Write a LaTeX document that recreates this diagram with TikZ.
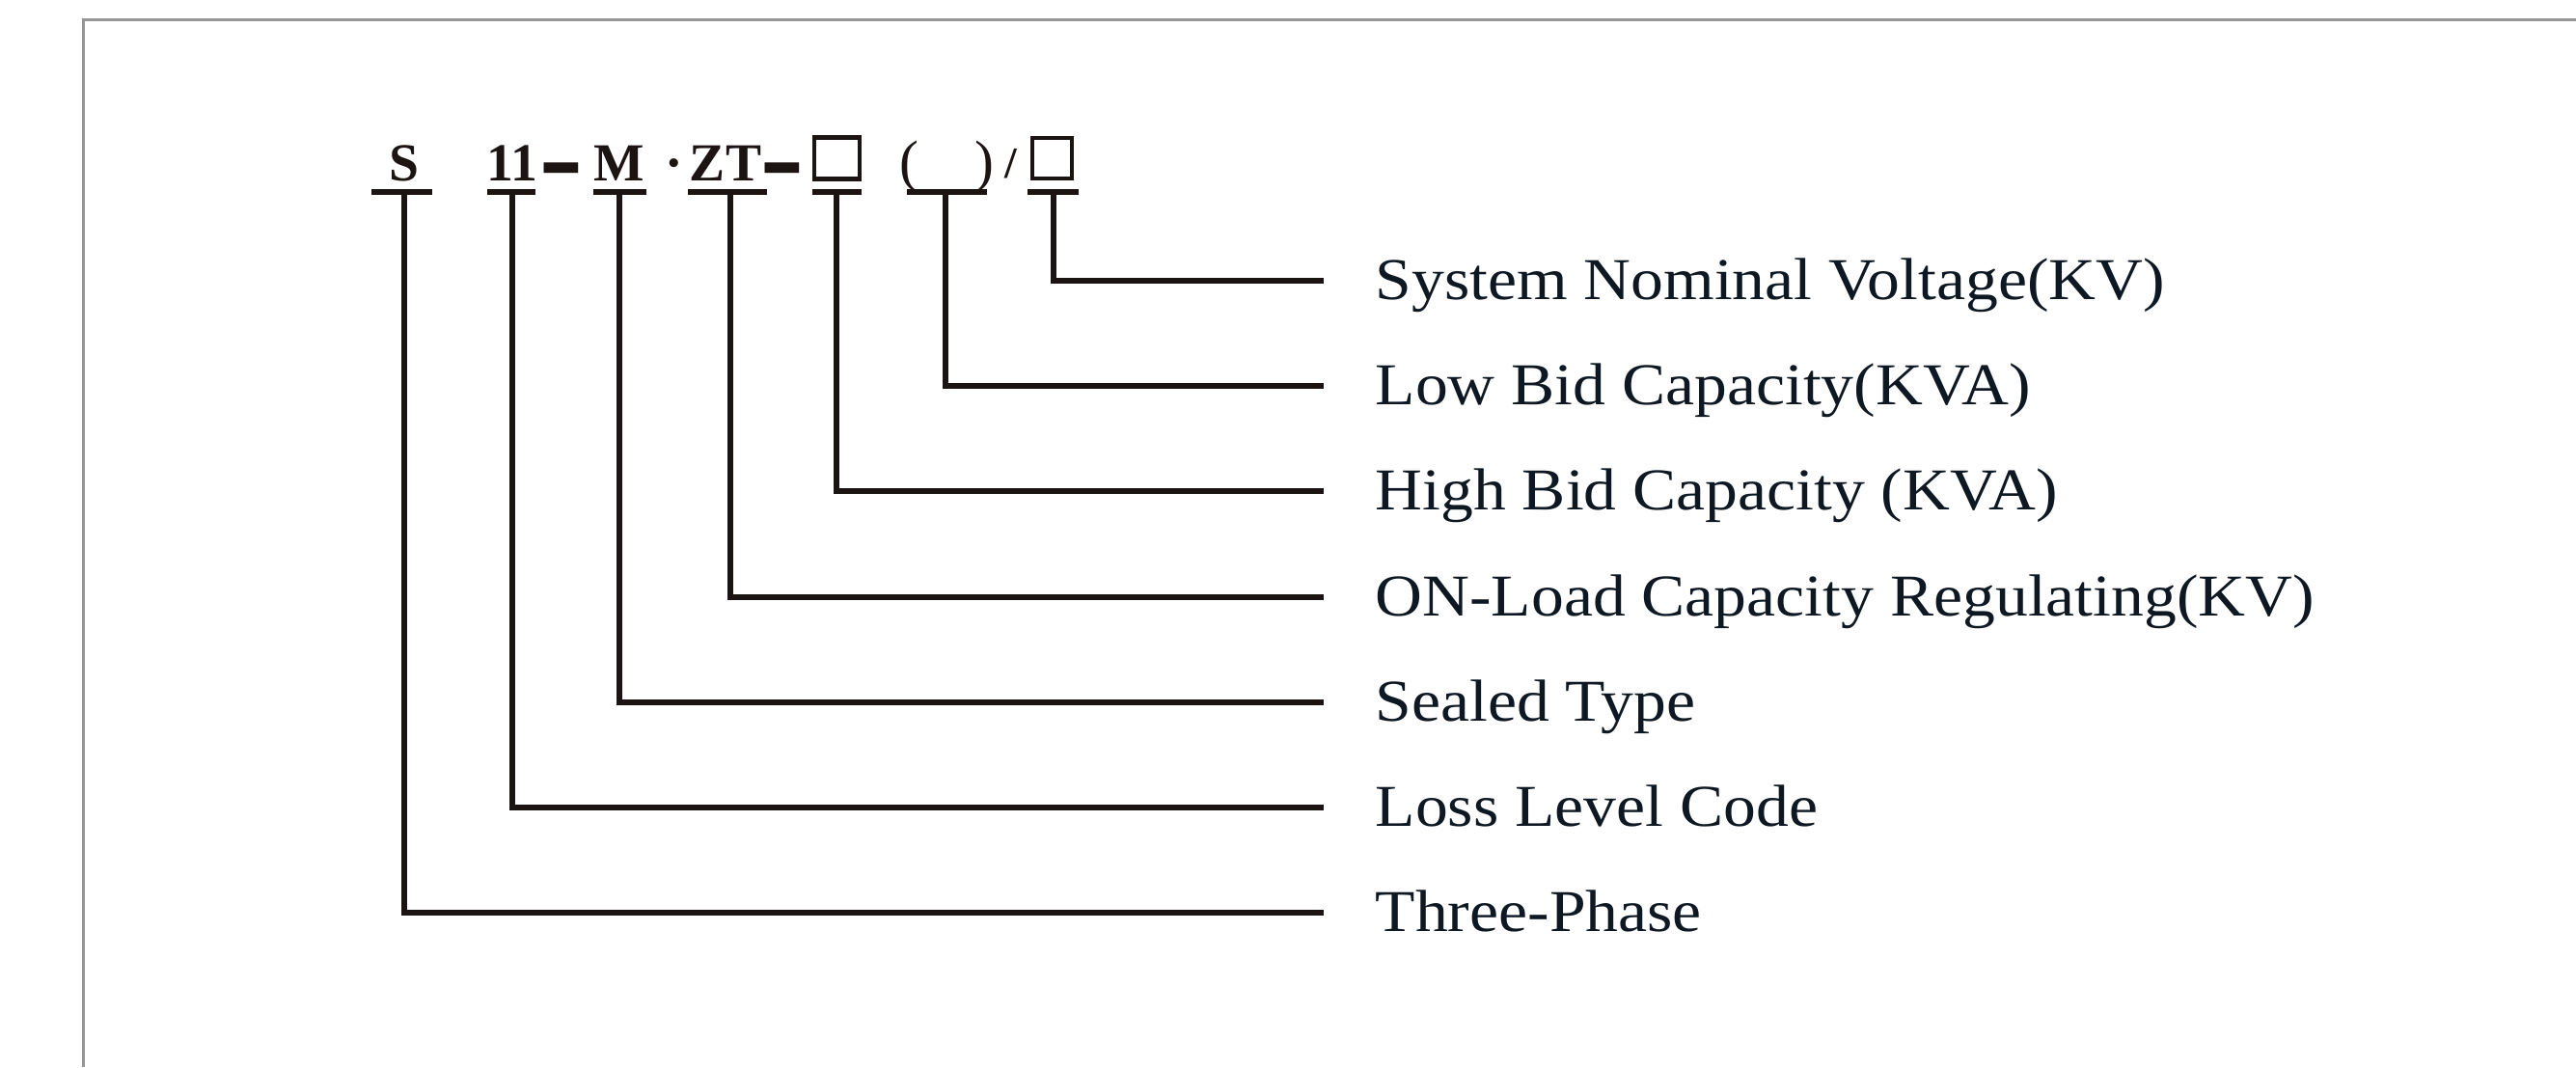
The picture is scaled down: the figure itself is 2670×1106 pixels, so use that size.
\documentclass[tikz,border=0pt]{standalone}
\usepackage{fontspec}
\setmainfont{Liberation Serif}
\newfontfamily\lblfont[FakeStretch=1.1]{Liberation Serif}
\definecolor{ink}{RGB}{14,24,34}
\definecolor{wire}{RGB}{28,20,18}
\definecolor{frame}{RGB}{150,150,150}
\begin{document}
\begin{tikzpicture}[x=0.1mm,y=-0.1mm,
  wirestyle/.style={draw=wire,line width=0.52mm},
  ulinestyle/.style={draw=wire,line width=0.6mm},
  codetext/.style={inner sep=0pt,anchor=base,text=wire,font=\fontsize{15.8}{18}\selectfont\bfseries},
  parentext/.style={inner sep=0pt,anchor=base,text=wire,font=\fontsize{17}{20}\selectfont},
  boxstyle/.style={draw=wire,line width=0.42mm,inner sep=0pt},
  lbl/.style={inner sep=0pt,anchor=base west,text=ink,font=\lblfont\fontsize{17.5}{21}\selectfont}]
\useasboundingbox (0,0) rectangle (2670,1106);
\fill[white] (0,0) rectangle (2670,1106);
\draw[draw=frame,line width=0.3mm] (86,1106) -- (86,20) -- (2670,20);

% code line
\node[codetext] (cS) at (419,187) {S};
\node[codetext] (c11) at (531,187) {11};
\node[codetext] (d1) at (582,210) {\scalebox{1.25}[2.8]{–}};
\node[codetext] (cM) at (642,187) {M};
\node[codetext] (dot) at (699,187) {·};
\node[codetext] (cZT) at (752,187) {ZT};
\node[codetext] (d2) at (811,210) {\scalebox{1.25}[2.8]{–}};
\node[boxstyle,minimum width=4.7mm,minimum height=4.3mm] (cB1) at (867.5,164) {};
\node[parentext] (pl) at (942,187) {(};
\node[parentext] (pr) at (1020,187) {)};
\node[codetext,font=\fontsize{13}{15}\selectfont\bfseries] (sl) at (1048,184) {/};
\node[boxstyle,minimum width=4.1mm,minimum height=4.2mm] (cB2) at (1090.5,164) {};

% underlines
\draw[ulinestyle] (385,199) -- (448,199);
\draw[ulinestyle] (505,199) -- (555,199);
\draw[ulinestyle] (615,199) -- (670,199);
\draw[ulinestyle] (713,199) -- (795,199);
\draw[ulinestyle] (842,199) -- (893,199);
\draw[ulinestyle] (940,199) -- (1023,199);
\draw[ulinestyle] (1065,199) -- (1118,199);

% connector start points
\coordinate (tS) at (419,199);
\coordinate (t11) at (531,199);
\coordinate (tM) at (642,199);
\coordinate (tZT) at (757,199);
\coordinate (tB1) at (867,199);
\coordinate (tP) at (980,199);
\coordinate (tB2) at (1092,199);

% connector end points
\coordinate (e1) at (1372,291);
\coordinate (e2) at (1372,400);
\coordinate (e3) at (1372,509);
\coordinate (e4) at (1372,619);
\coordinate (e5) at (1372,728);
\coordinate (e6) at (1372,837);
\coordinate (e7) at (1372,946);

\draw[wirestyle] (tB2) |- (e1);
\draw[wirestyle] (tP) |- (e2);
\draw[wirestyle] (tB1) |- (e3);
\draw[wirestyle] (tZT) |- (e4);
\draw[wirestyle] (tM) |- (e5);
\draw[wirestyle] (t11) |- (e6);
\draw[wirestyle] (tS) |- (e7);

% labels
\node[lbl] (l1) at (1425,310) {System Nominal Voltage(KV)};
\node[lbl] (l2) at (1425,419) {Low Bid Capacity(KVA)};
\node[lbl] (l3) at (1425,528) {High Bid Capacity (KVA)};
\node[lbl] (l4) at (1425,638) {ON-Load Capacity Regulating(KV)};
\node[lbl] (l5) at (1425,747) {Sealed Type};
\node[lbl] (l6) at (1425,856) {Loss Level Code};
\node[lbl] (l7) at (1425,965) {Three-Phase};
\end{tikzpicture}
\end{document}
